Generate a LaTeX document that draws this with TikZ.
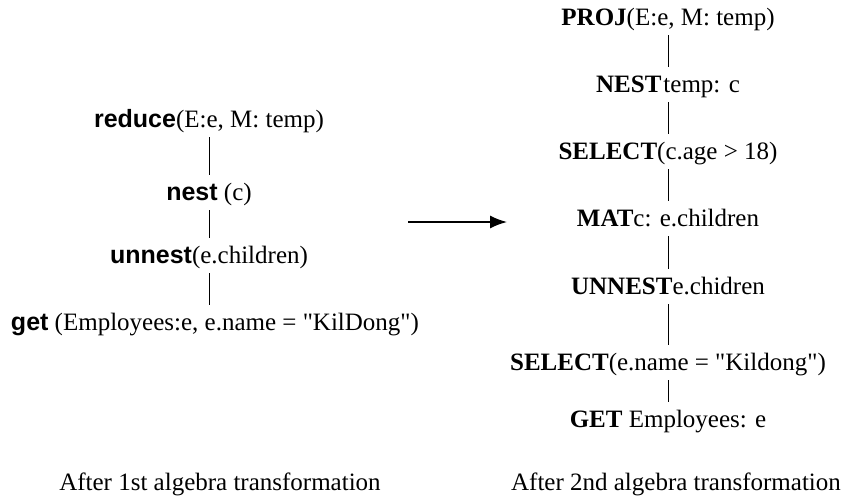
\documentclass[tikz,border=0pt]{standalone}
\usepackage{fontspec}
\setmainfont{Liberation Serif}
\setsansfont{Liberation Sans}
\usepackage{tikz}
\usetikzlibrary{arrows,arrows.meta,positioning}
\tikzset{
oper/.style = {inner xsep=2pt, inner ysep=6pt, text height=18.5pt, text depth=4pt, font=\fontsize{25}{30}\selectfont},
caption/.style = {anchor=base, font=\fontsize{25}{30}\selectfont},
link/.style = {draw, line width=0.8pt}
}
\newcommand{\lop}[1]{{\sffamily\bfseries #1}}
\newcommand{\rop}[1]{\textbf{#1}}
\newcommand{\qq}{\textquotedbl}

\begin{document}
\begin{tikzpicture}[x=1pt, y=-1pt, node distance=67pt, >=latex']
\useasboundingbox (0,0) rectangle (848,501);

                % after the 1st transformation
                \node [oper, anchor=base] (reduce) at (209,127) {\lop{reduce}(E:e, M: temp)};
                \node [oper, below of=reduce, node distance=73pt] (nest) {\lop{nest} (c)};
                \node [oper, below of=nest, node distance=63pt] (unnest) {\lop{unnest}(e.children)};
                \node [oper, below of=unnest, xshift=6pt] (get) {\lop{get} (Employees:e, e.name = \qq KilDong\qq)};
                \draw [link] (reduce) -- (nest);
                \draw [link] (nest) -- (unnest);
                \draw [link] (unnest) -- (unnest |- get.north);

                % after the 2nd transformation
                \node [oper, anchor=base] (proj) at (668,25) {\rop{PROJ}(E:e, M: temp)};
                \node [oper, below of=proj] (nest2) {\rop{NEST}\kern2pt temp: c};
                \node [oper, below of=nest2] (select1) {\rop{SELECT}(c.age > 18)};
                \node [oper, below of=select1] (mat) {\rop{MAT}c: e.children};
                \node [oper, below of=mat, node distance=68pt] (unnest2) {\rop{UNNEST}e.chidren};
                \node [oper, below of=unnest2, node distance=76pt] (select2) {\rop{SELECT}(e.name = \qq Kildong\qq)};
                \node [oper, below of=select2, node distance=57pt] (get2) {\rop{GET} Employees: e};
                \draw [link] (proj) -- (nest2);
                \draw [link] (nest2) -- (select1);
                \draw [link] (select1) -- (mat);
                \draw [link] (mat) -- (unnest2);
                \draw [link] (unnest2) -- (select2);
                \draw [link] (select2) -- (get2);

                \coordinate (from) at (408,222);
                \coordinate (to) at (507,222);
                \draw [line width=1.5pt, -{Latex[length=17pt,width=13pt]}] (from) -- (to);

                \node [caption] (cap1) at (220,490) {After 1st algebra transformation};
                \node [caption] (cap2) at (676,490) {After 2nd algebra transformation};
            \end{tikzpicture}
\end{document}
